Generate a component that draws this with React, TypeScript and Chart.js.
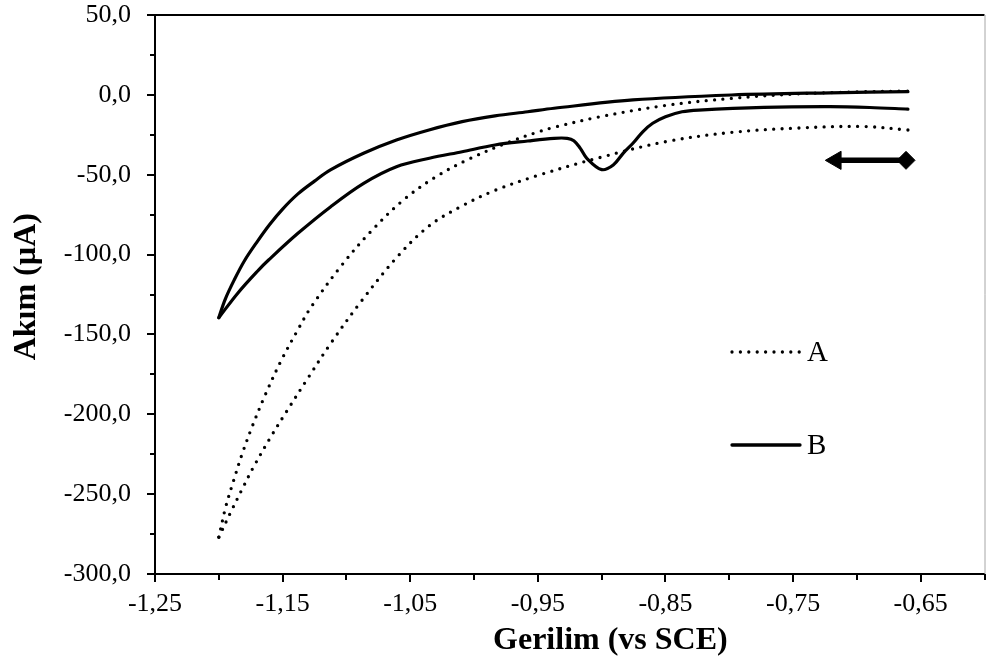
import React, { useEffect, useRef } from 'react';
import { Chart, registerables } from 'chart.js';

Chart.register(...registerables);

// ---- axis ticks ----
const xTickValues = [-1.25, -1.15, -1.05, -0.95, -0.85, -0.75, -0.65];
const xMinorTickValues = [-1.2, -1.1, -1.0, -0.9, -0.8, -0.7, -0.6];
const yTickValues = [-300, -250, -200, -150, -100, -50, 0, 50];
const yMinorTickValues = [-275, -225, -175, -125, -75, -25, 25];

const xTitle = 'Gerilim (vs SCE)';
const yTitle = 'Akım (µA)';
const seriesNames = ['A', 'B'];

// ---- series A (dotted): cathodic sweep then anodic sweep ----
const aCathodicV = [-0.66, -0.6953, -0.7468, -0.7983, -0.8498, -0.9012, -0.9502, -0.9836, -1.0093, -1.0351, -1.0608, -1.0891, -1.1123, -1.1303, -1.1471, -1.1599, -1.1728, -1.1818, -1.1908, -1.2];
const aCathodicI = [-22.0, -19.8, -20.8, -23.5, -29.3, -39.2, -50.5, -59.8, -69.5, -82.0, -102.0, -130.0, -155.6, -177.5, -198.5, -215.0, -233.0, -247.0, -261.5, -277.0];
const aAnodicV = [-1.2, -1.1946, -1.1882, -1.1818, -1.174, -1.1637, -1.1509, -1.138, -1.1278, -1.1046, -1.0814, -1.0556, -1.0299, -1.0042, -0.9733, -0.9502, -0.9373, -0.9012, -0.8498, -0.7983, -0.7468, -0.6953, -0.66];
const aAnodicI = [-277.0, -258.0, -241.0, -225.0, -208.0, -188.0, -166.0, -147.0, -133.0, -107.6, -86.0, -66.0, -51.3, -40.3, -29.8, -23.3, -20.3, -13.7, -6.6, -2.2, 0.6, 1.9, 2.4];

// ---- series B (solid) ----
const bCathodicV = [-0.66, -0.69, -0.721, -0.773, -0.824, -0.837, -0.85, -0.86, -0.8678, -0.8755, -0.8832, -0.8909, -0.9, -0.9116, -0.9167, -0.9218, -0.927, -0.9373, -0.9579, -0.9836, -1.0093, -1.035, -1.0608, -1.0865, -1.1123, -1.138, -1.161, -1.1689, -1.185, -1.2];
const bCathodicI = [-8.9, -7.9, -7.4, -7.8, -9.5, -10.6, -13.7, -17.8, -23.1, -30.3, -36.6, -43.9, -46.8, -39.7, -33.5, -28.7, -27.2, -27.2, -28.9, -31.4, -35.6, -39.7, -45.0, -55.4, -70.0, -86.7, -103.4, -109.7, -124.0, -139.5];
const bAnodicV = [-1.2, -1.195, -1.188, -1.18, -1.17, -1.16, -1.15, -1.138, -1.125, -1.1125, -1.0866, -1.0608, -1.0353, -1.0093, -0.9836, -0.958, -0.9373, -0.8755, -0.7983, -0.721, -0.66];
const bAnodicI = [-139.5, -128.0, -116.0, -104.0, -92.0, -81.0, -71.5, -62.0, -54.0, -47.0, -36.6, -28.3, -22.0, -16.8, -13.2, -10.6, -8.4, -3.2, -0.1, 1.3, 2.0];

// ---- scan direction arrow ----
const arrowV = [-0.7165, -0.6615];
const arrowI = [-41, -41];

const SERIF = "'Liberation Serif', 'Times New Roman', serif";

function pts(xs: number[], ys: number[]) {
  return xs.map((x, i) => ({ x, y: ys[i] }));
}

const decorations = {
  id: 'decorations',
  afterDraw(chart: any) {
    const ctx = chart.ctx;
    const ca = chart.chartArea;
    const xs = chart.scales.x;
    const ys = chart.scales.y;
    ctx.save();
    ctx.strokeStyle = '#000';
    ctx.lineWidth = 2;
    ctx.lineCap = 'butt';
    // top border
    ctx.beginPath();
    ctx.moveTo(ca.left - 8, ca.top);
    ctx.lineTo(ca.right, ca.top);
    ctx.stroke();
    // y ticks
    yTickValues.forEach((v) => {
      const p = Math.round(ys.getPixelForValue(v));
      ctx.beginPath();
      ctx.moveTo(ca.left - 8, p);
      ctx.lineTo(ca.left, p);
      ctx.stroke();
    });
    yMinorTickValues.forEach((v) => {
      const p = Math.round(ys.getPixelForValue(v));
      ctx.beginPath();
      ctx.moveTo(ca.left - 5, p);
      ctx.lineTo(ca.left, p);
      ctx.stroke();
    });
    // x ticks
    xTickValues.forEach((v) => {
      const p = Math.round(xs.getPixelForValue(v));
      ctx.beginPath();
      ctx.moveTo(p, ca.bottom);
      ctx.lineTo(p, ca.bottom + 8);
      ctx.stroke();
    });
    xMinorTickValues.forEach((v) => {
      const p = Math.round(xs.getPixelForValue(v));
      ctx.beginPath();
      ctx.moveTo(p, ca.bottom);
      ctx.lineTo(p, ca.bottom + 6);
      ctx.stroke();
    });
    // right border (faint)
    ctx.strokeStyle = '#a6a6a6';
    ctx.lineWidth = 1;
    ctx.beginPath();
    ctx.moveTo(ca.right + 0.5, ca.top);
    ctx.lineTo(ca.right + 0.5, ca.bottom);
    ctx.stroke();

    // axis titles
    ctx.fillStyle = '#000';
    ctx.font = `bold 32px ${SERIF}`;
    ctx.textAlign = 'center';
    ctx.textBaseline = 'middle';
    ctx.fillText(xTitle, ca.left + (ca.right - ca.left) * 0.549, 641);
    ctx.save();
    ctx.translate(27, ca.top + (ca.bottom - ca.top) * 0.486);
    ctx.rotate(-Math.PI / 2);
    ctx.fillText(yTitle, 0, 0);
    ctx.restore();

    // legend
    const lx0 = ca.left + 577;
    const lx1 = ca.left + 645;
    const lyA = ca.top + 337;
    const lyB = ca.top + 430;
    ctx.lineWidth = 3.3;
    ctx.lineCap = 'round';
    ctx.strokeStyle = '#000';
    ctx.setLineDash([0, 8.4]);
    ctx.beginPath();
    ctx.moveTo(lx0, lyA);
    ctx.lineTo(lx1, lyA);
    ctx.stroke();
    ctx.setLineDash([]);
    ctx.beginPath();
    ctx.moveTo(lx0, lyB);
    ctx.lineTo(lx1, lyB);
    ctx.stroke();
    ctx.font = `29px ${SERIF}`;
    ctx.textAlign = 'left';
    ctx.fillText(seriesNames[0], lx1 + 7, lyA + 1);
    ctx.fillText(seriesNames[1], lx1 + 7, lyB + 1);
    ctx.restore();
  },
};

export default function App() {
  const ref = useRef<HTMLCanvasElement | null>(null);

  useEffect(() => {
    document.body.style.margin = '0';
    const canvas = ref.current;
    if (!canvas) return;
    const dotted = {
      borderColor: '#000',
      borderWidth: 3.3,
      borderDash: [0, 8.4],
      borderCapStyle: 'round',
      pointRadius: 0,
      tension: 0.35,
      fill: false,
    };
    const solid = {
      borderColor: '#000',
      borderWidth: 3.2,
      borderCapStyle: 'round',
      borderJoinStyle: 'round',
      pointRadius: 0,
      tension: 0.35,
      fill: false,
    };
    const chart = new Chart(canvas, {
      type: 'scatter',
      data: {
        datasets: [
          { label: 'A', data: pts(aCathodicV, aCathodicI), showLine: true, ...dotted },
          { label: 'A2', data: pts(aAnodicV, aAnodicI), showLine: true, ...dotted },
          { label: 'B', data: pts(bCathodicV, bCathodicI), showLine: true, ...solid },
          { label: 'B2', data: pts(bAnodicV, bAnodicI), showLine: true, ...solid },
          {
            label: 'arrow',
            data: pts(arrowV, arrowI),
            showLine: true,
            borderColor: '#000',
            borderWidth: 5.5,
            backgroundColor: '#000',
            pointBackgroundColor: '#000',
            pointBorderColor: '#000',
            pointBorderWidth: 1,
            pointStyle: ['triangle', 'rectRot'],
            pointRotation: [-90, 0],
            pointRadius: [10.5, 9],
            tension: 0,
          },
        ],
      } as any,
      options: {
        animation: false,
        responsive: false,
        maintainAspectRatio: false,
        clip: false as any,
        layout: { padding: { left: 0, right: 1, top: 15, bottom: 0 } },
        plugins: {
          legend: { display: false },
          tooltip: { enabled: false },
        },
        scales: {
          x: {
            type: 'linear',
            min: -1.25,
            max: -0.6,
            afterBuildTicks: (s: any) => {
              s.ticks = xTickValues.map((v) => ({ value: v }));
            },
            afterFit: (s: any) => {
              s.height = 87;
              s.paddingLeft = 0;
              s.paddingRight = 0;
            },
            grid: { display: false, drawTicks: false },
            border: { display: true, color: '#000', width: 2 },
            ticks: {
              autoSkip: false,
              maxRotation: 0,
              padding: 17,
              color: '#000',
              font: { family: SERIF, size: 26, lineHeight: 1 },
              callback: (v: any) => Number(v).toFixed(2).replace('.', ','),
            },
          },
          y: {
            type: 'linear',
            min: -300,
            max: 50,
            afterBuildTicks: (s: any) => {
              s.ticks = yTickValues.map((v) => ({ value: v }));
            },
            afterFit: (s: any) => {
              s.width = 155;
              s.paddingTop = 0;
              s.paddingBottom = 0;
            },
            grid: { display: false, drawTicks: false },
            border: { display: true, color: '#000', width: 2 },
            ticks: {
              autoSkip: false,
              padding: 24,
              color: '#000',
              font: { family: SERIF, size: 26, lineHeight: 1 },
              callback: (v: any) => {
                const s = Number(v).toFixed(1).replace('.', ',');
                return s === '-0,0' ? '0,0' : s;
              },
            },
          },
        },
      } as any,
      plugins: [decorations],
    });
    return () => chart.destroy();
  }, []);

  return (
    <div style={{ position: 'fixed', left: 0, top: 0, width: 996, height: 661, background: '#fff' }}>
      <canvas ref={ref} width={996} height={661} style={{ display: 'block' }} />
    </div>
  );
}
